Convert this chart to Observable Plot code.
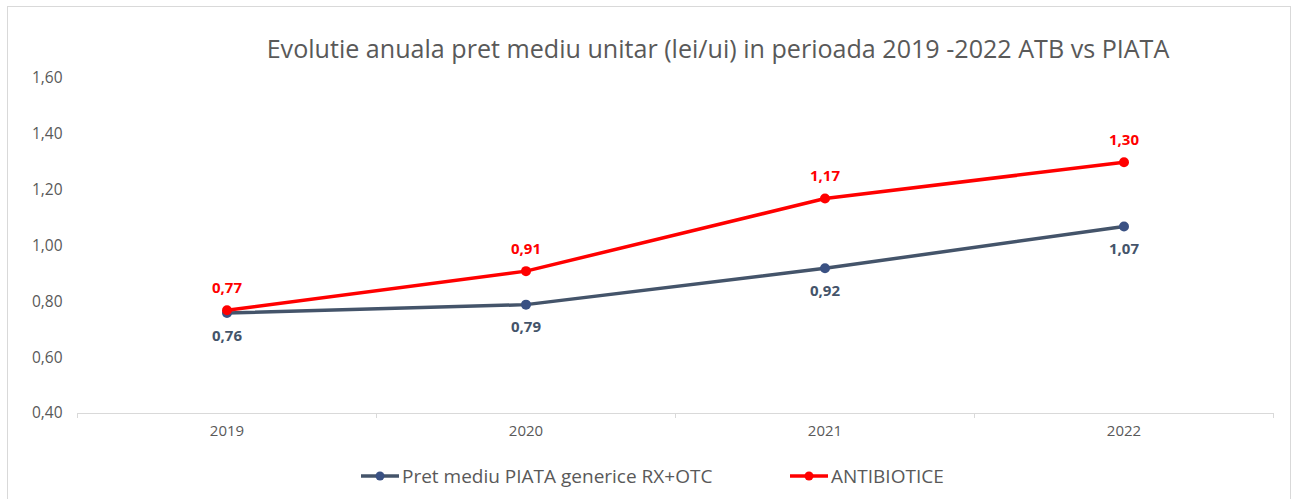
<!DOCTYPE html>
<html>
<head>
<meta charset="utf-8">
<script src="https://cdn.jsdelivr.net/npm/d3@7"></script>
<script src="https://cdn.jsdelivr.net/npm/@observablehq/plot@0.6"></script>
<style>
  body { margin: 0; background: #fff; font-family: "Open Sans", sans-serif; }
  #wrap { position: relative; width: 1295px; height: 499px; overflow: hidden; background: #fff; }
  #frame { position: absolute; left: 7px; top: 6px; width: 1284px; height: 520px; border: 1px solid #d9d9d9; box-sizing: border-box; }
  #title { position: absolute; top: 31px; left: 718px; transform: translateX(-50%); white-space: nowrap;
           font-size: 25.1px; line-height: 34px; color: #595959; font-family: "Open Sans", sans-serif; }
  #plot { position: absolute; left: 0; top: 60px; }
  #legend { position: absolute; top: 463px; left: 0; width: 1295px; height: 26px; font-size: 19px; color: #595959; }
  .item { position: absolute; top: 0; display: flex; align-items: center; white-space: nowrap; }
  .item svg { margin-right: 3px; }
</style>
</head>
<body>
<div id="wrap">
  <div id="frame"></div>
  <div id="title">Evolutie anuala pret mediu unitar (lei/ui) in perioada 2019 -2022 ATB vs PIATA</div>
  <div id="plot"></div>
  <div id="legend"></div>
</div>
<script>
const years = ["2019", "2020", "2021", "2022"];
const piata = [0.76, 0.79, 0.92, 1.07];
const atb = [0.77, 0.91, 1.17, 1.30];
const yTicks = [0.4, 0.6, 0.8, 1.0, 1.2, 1.4, 1.6];
const seriesNames = ["Pret mediu PIATA generice RX+OTC", "ANTIBIOTICE"];
const seriesColors = ["#44546A", "#FF0000"];
const markerColors = ["#3A5183", "#FF0000"];

const fmt = v => v.toFixed(2).replace(".", ",");
const rowsP = years.map((y, i) => ({i, year: y, v: piata[i]}));
const rowsA = years.map((y, i) => ({i, year: y, v: atb[i]}));

const chart = Plot.plot({
  width: 1295,
  height: 380,
  marginLeft: 77,
  marginRight: 22,
  marginTop: 18,
  marginBottom: 27,
  x: {type: "linear", domain: [0, years.length]},
  y: {domain: [0.4, 1.6]},
  style: {fontFamily: "Open Sans, sans-serif", background: "transparent"},
  marks: [
    Plot.ruleY([0.4], {stroke: "#d9d9d9", strokeWidth: 1}),
    Plot.axisX({ticks: d3.range(0, years.length + 1), tickSize: 5, tickFormat: () => "", stroke: "#d9d9d9", strokeOpacity: 1, label: null}),
    Plot.axisX({ticks: years.map((_, i) => i + 0.5), tickSize: 0, tickPadding: 12, tickFormat: t => years[Math.floor(t)], fill: "#595959", fontSize: 15, label: null}),
    Plot.axisY({ticks: yTicks, tickSize: 0, tickPadding: 15, tickFormat: fmt, fill: "#595959", fontSize: 15.5, label: null}),
    Plot.line(rowsP, {x: d => d.i + 0.5, y: "v", stroke: seriesColors[0], strokeWidth: 3.5}),
    Plot.dot(rowsP, {x: d => d.i + 0.5, y: "v", r: 5, fill: markerColors[0], stroke: "none"}),
    Plot.line(rowsA, {x: d => d.i + 0.5, y: "v", stroke: seriesColors[1], strokeWidth: 3.5}),
    Plot.dot(rowsA, {x: d => d.i + 0.5, y: "v", r: 5, fill: markerColors[1], stroke: "none"}),
    Plot.text(rowsP, {x: d => d.i + 0.5, y: "v", text: d => fmt(d.v), dy: 23, fill: seriesColors[0], fontWeight: "bold", fontSize: 15}),
    Plot.text(rowsA, {x: d => d.i + 0.5, y: "v", text: d => fmt(d.v), dy: -22, fill: seriesColors[1], fontWeight: "bold", fontSize: 15})
  ]
});
document.getElementById("plot").appendChild(chart);

const legend = document.getElementById("legend");
const lefts = [361, 790];
seriesNames.forEach((name, k) => {
  const item = document.createElement("div");
  item.className = "item";
  item.style.left = lefts[k] + "px";
  item.innerHTML = `<svg width="38" height="26"><line x1="0" x2="38" y1="13" y2="13" stroke="${seriesColors[k]}" stroke-width="3.5"/><circle cx="19" cy="13" r="4.5" fill="${markerColors[k]}"/></svg><span>${name}</span>`;
  legend.appendChild(item);
});
</script>
</body>
</html>
